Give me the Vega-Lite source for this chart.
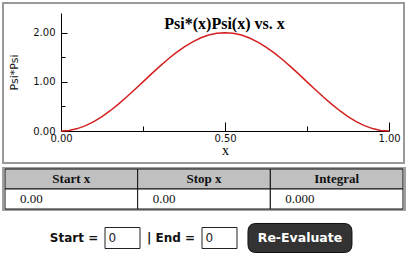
{
  "$schema": "https://vega.github.io/schema/vega-lite/v6.json",
  "padding": {"left": 2, "top": 2, "right": 0, "bottom": 0},
  "background": "white",
  "spacing": 3,
  "config": {"view": {"stroke": null}, "font": "DejaVu Sans"},
  "datasets": {
    "curve": [
      {"x": 0, "y": 0}, {"x": 0.025, "y": 0.01231}, {"x": 0.05, "y": 0.04894}, {"x": 0.075, "y": 0.10899},
      {"x": 0.1, "y": 0.19098}, {"x": 0.125, "y": 0.29289}, {"x": 0.15, "y": 0.41221}, {"x": 0.175, "y": 0.54601},
      {"x": 0.2, "y": 0.69098}, {"x": 0.225, "y": 0.84357}, {"x": 0.25, "y": 1.0}, {"x": 0.275, "y": 1.15643},
      {"x": 0.3, "y": 1.30902}, {"x": 0.325, "y": 1.45399}, {"x": 0.35, "y": 1.58779}, {"x": 0.375, "y": 1.70711},
      {"x": 0.4, "y": 1.80902}, {"x": 0.425, "y": 1.89101}, {"x": 0.45, "y": 1.95106}, {"x": 0.475, "y": 1.98769},
      {"x": 0.5, "y": 2.0}, {"x": 0.525, "y": 1.98769}, {"x": 0.55, "y": 1.95106}, {"x": 0.575, "y": 1.89101},
      {"x": 0.6, "y": 1.80902}, {"x": 0.625, "y": 1.70711}, {"x": 0.65, "y": 1.58779}, {"x": 0.675, "y": 1.45399},
      {"x": 0.7, "y": 1.30902}, {"x": 0.725, "y": 1.15643}, {"x": 0.75, "y": 1.0}, {"x": 0.775, "y": 0.84357},
      {"x": 0.8, "y": 0.69098}, {"x": 0.825, "y": 0.54601}, {"x": 0.85, "y": 0.41221}, {"x": 0.875, "y": 0.29289},
      {"x": 0.9, "y": 0.19098}, {"x": 0.925, "y": 0.10899}, {"x": 0.95, "y": 0.04894}, {"x": 0.975, "y": 0.01231},
      {"x": 1.0, "y": 0}
    ],
    "cells": [
      {"column": "Start x", "row": "head", "text": "Start x"},
      {"column": "Stop x", "row": "head", "text": "Stop x"},
      {"column": "Integral", "row": "head", "text": "Integral"},
      {"column": "Start x", "row": "val", "text": "0.00"},
      {"column": "Stop x", "row": "val", "text": "0.00"},
      {"column": "Integral", "row": "val", "text": "0.000"}
    ],
    "form": [
      {"item": "Start =", "kind": "label"},
      {"item": "start", "kind": "input", "value": "0"},
      {"item": "| End =", "kind": "label"},
      {"item": "end", "kind": "input", "value": "0"},
      {"item": "Re-Evaluate", "kind": "button"}
    ]
  },
  "vconcat": [
    {
      "width": 401,
      "height": 160,
      "view": {"stroke": "#9a9a9a", "strokeWidth": 2},
      "title": {"text": "Psi*(x)Psi(x) vs. x", "font": "Liberation Serif", "fontSize": 16, "fontWeight": "bold", "color": "#000", "anchor": "middle", "frame": "group", "baseline": "alphabetic", "offset": -42, "dx": 21},
      "data": {"name": "curve"},
      "layer": [
        {
          "mark": {"type": "line", "color": "#d42020", "strokeWidth": 1.5},
          "encoding": {
            "x": {"field": "x", "type": "quantitative", "scale": {"domain": [0, 1], "range": [58, 386], "nice": false, "zero": false},
              "axis": {"orient": "bottom", "offset": -32, "values": [0, 0.5, 1], "format": ".2f", "labelFlush": false, "labelOverlap": false, "tickSize": -9, "labelPadding": 11, "domainColor": "#000", "tickColor": "#000", "labelColor": "#111", "labelFont": "DejaVu Sans", "labelFontSize": 10, "title": "x", "titleFont": "Liberation Serif", "titleFontSize": 14, "titleFontWeight": "normal", "titleColor": "#000", "titlePadding": 0, "grid": false}},
            "y": {"field": "y", "type": "quantitative", "scale": {"domain": [0, 2.4], "range": [128, 10], "nice": false, "zero": false},
              "axis": {"orient": "left", "offset": -58, "values": [0, 1, 2], "format": ".2f", "labelFlush": false, "labelOverlap": false, "tickSize": -6, "labelPadding": 12, "domainColor": "#000", "tickColor": "#000", "labelColor": "#111", "labelFont": "DejaVu Sans", "labelFontSize": 10, "title": "Psi*Psi", "titleFont": "DejaVu Sans", "titleFontSize": 11, "titleFontWeight": "normal", "titleColor": "#111", "titlePadding": 13, "grid": false}}
          }
        },
        {
          "mark": {"type": "line", "opacity": 0},
          "encoding": {
            "x": {"field": "x", "type": "quantitative", "scale": {"domain": [0, 1], "range": [58, 386], "nice": false, "zero": false},
              "axis": {"orient": "bottom", "offset": -32, "values": [0.25, 0.75], "labels": false, "domain": false, "tickSize": -5, "tickColor": "#000", "title": null, "grid": false}},
            "y": {"field": "y", "type": "quantitative", "scale": {"domain": [0, 2.4], "range": [128, 10], "nice": false, "zero": false},
              "axis": {"orient": "left", "offset": -58, "values": [0.5, 1.5], "labels": false, "domain": false, "tickSize": -4, "tickColor": "#000", "title": null, "grid": false}}
          }
        }
      ],
      "resolve": {"axis": {"x": "independent", "y": "independent"}}
    },
    {
      "width": 402,
      "height": 42,
      "view": {"stroke": "#a0a0a0", "strokeWidth": 2},
      "data": {"name": "cells"},
      "encoding": {
        "x": {"field": "column", "type": "nominal", "sort": ["Start x", "Stop x", "Integral"], "scale": {"paddingInner": 0, "paddingOuter": 0.015}, "axis": null},
        "y": {"field": "row", "type": "nominal", "sort": ["head", "val"], "scale": {"paddingInner": 0, "paddingOuter": 0.05}, "axis": null}
      },
      "layer": [
        {
          "mark": {"type": "rect", "stroke": "#111", "strokeWidth": 1},
          "encoding": {"fill": {"field": "row", "type": "nominal", "scale": {"domain": ["head", "val"], "range": ["#c0c0c0", "#ffffff"]}, "legend": null}}
        },
        {
          "transform": [{"filter": "datum.row == 'head'"}],
          "mark": {"type": "text", "font": "Liberation Serif", "fontWeight": "bold", "fontSize": 13, "color": "#111"},
          "encoding": {"text": {"field": "text"}}
        },
        {
          "transform": [{"filter": "datum.row == 'val'"}],
          "mark": {"type": "text", "font": "Liberation Serif", "fontSize": 13, "align": "left", "dx": 15, "color": "#111"},
          "encoding": {
            "text": {"field": "text"},
            "x": {"field": "column", "type": "nominal", "sort": ["Start x", "Stop x", "Integral"], "bandPosition": 0, "axis": null}
          }
        }
      ]
    },
    {
      "width": 291,
      "height": 48,
      "data": {"name": "form"},
      "encoding": {
        "x": {"field": "item", "type": "nominal", "scale": {"type": "point", "domain": ["Start =", "start", "| End =", "end", "Re-Evaluate"], "padding": 1, "align": 0.732}, "axis": null}
      },
      "layer": [
        {
          "transform": [{"filter": "datum.kind == 'label'"}],
          "mark": {"type": "text", "font": "DejaVu Sans", "fontWeight": "bold", "fontSize": 12, "color": "#111"},
          "encoding": {"text": {"field": "item"}}
        },
        {
          "transform": [{"filter": "datum.kind == 'input'"}],
          "mark": {"type": "point", "shape": "M-1,-0.6H1V0.6H-1Z", "size": 1225, "filled": true, "fill": "#ffffff", "stroke": "#222", "strokeWidth": 1, "opacity": 1}
        },
        {
          "transform": [{"filter": "datum.kind == 'input'"}],
          "mark": {"type": "text", "align": "left", "dx": -14, "font": "DejaVu Sans", "fontSize": 12, "color": "#222"},
          "encoding": {"text": {"field": "value"}}
        },
        {
          "transform": [{"filter": "datum.kind == 'button'"}],
          "mark": {"type": "point", "shape": "M-0.231,-0.279H1.461Q1.615,-0.279,1.615,-0.125V0.125Q1.615,0.279,1.461,0.279H-0.231Q-0.385,0.279,-0.385,0.125V-0.125Q-0.385,-0.279,-0.231,-0.279Z", "size": 10816, "filled": true, "fill": "#333333", "stroke": "#111", "strokeWidth": 1, "opacity": 1}
        },
        {
          "transform": [{"filter": "datum.kind == 'button'"}],
          "mark": {"type": "text", "dx": 32, "font": "DejaVu Sans", "fontWeight": "bold", "fontSize": 12.5, "color": "#ffffff"},
          "encoding": {"text": {"field": "item"}}
        }
      ]
    }
  ]
}
